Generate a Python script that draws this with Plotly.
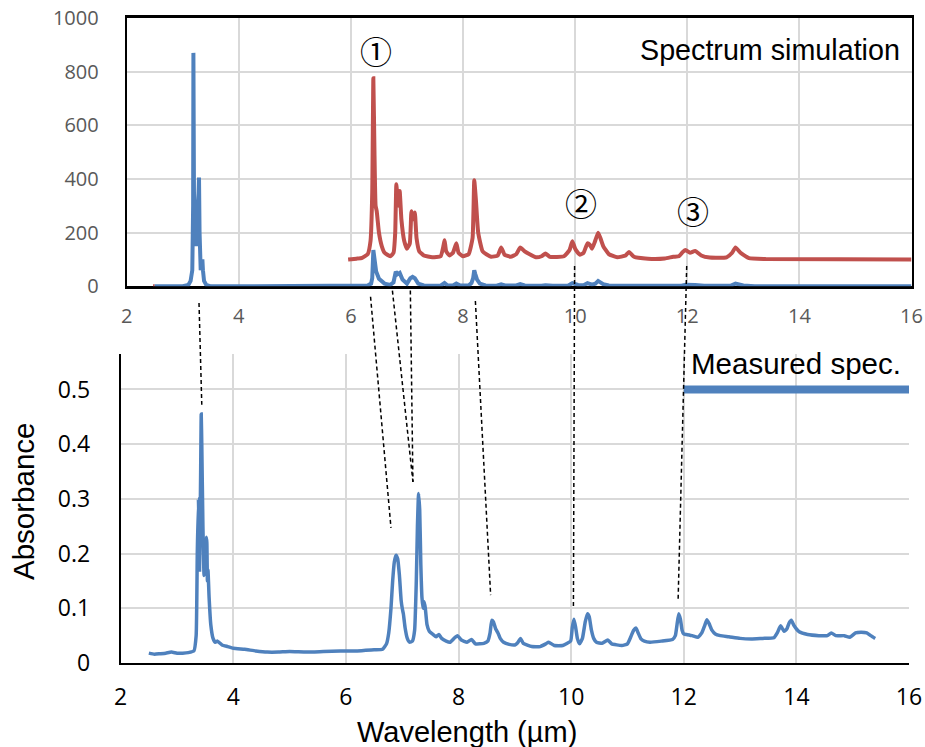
import plotly.graph_objects as go

# ---------------- data ----------------
# Top panel: simulated spectra (blue = base simulation, red = offset simulation)
sim_blue_x = [2.5, 3.0, 3.1, 3.14, 3.17, 3.185, 3.19, 3.2, 3.22, 3.24, 3.26, 3.28, 3.29, 3.3, 3.31,
              3.32, 3.34, 3.35, 3.36, 3.38, 3.42, 3.5, 4.0, 5.0, 6.0, 6.3, 6.36, 6.38, 6.4, 6.42, 6.45,
              6.5, 6.6, 6.7, 6.76, 6.8, 6.83, 6.87, 6.92, 7.0, 7.06, 7.1, 7.14, 7.2, 7.3, 7.6,
              7.67, 7.72, 7.82, 7.88, 7.95, 8.1, 8.15, 8.18, 8.2, 8.22, 8.25, 8.3, 8.4, 8.6, 8.68, 8.75,
              8.95, 9.02, 9.1, 9.4, 9.47, 9.6, 9.88, 9.95, 10.05, 10.15, 10.22, 10.3, 10.36,
              10.41, 10.5, 10.6, 10.9, 10.96, 11.1, 11.9, 11.97, 12.05, 12.14, 12.3, 12.78,
              12.86, 13.0, 13.2, 16.0]
sim_blue_y = [0, 0, 5, 20, 60, 300, 870, 350, 250, 150, 200, 330, 405, 200, 100,
              60, 80, 100, 60, 20, 5, 0, 0, 0, 0, 3, 10, 30, 135, 90, 55,
              28, 10, 5, 15, 55, 45, 50, 25, 10, 30, 35, 30, 10, 3, 2,
              12, 4, 3, 10, 3, 3, 12, 30, 60, 45, 25, 10, 3, 2, 7, 3,
              3, 8, 3, 2, 4, 2, 3, 12, 5, 4, 12, 6, 10,
              20, 8, 3, 2, 5, 2, 2, 6, 4, 5, 2, 3,
              10, 3, 0, 0]

sim_red_x = [2.47, 2.5, None,
             5.95, 6.1, 6.2, 6.3, 6.35, 6.38, 6.40, 6.42, 6.44, 6.46, 6.5, 6.55, 6.6, 6.7,
             6.76, 6.79, 6.81, 6.83, 6.85, 6.87, 6.9, 6.95, 7.0, 7.05, 7.08, 7.11, 7.14, 7.17,
             7.22, 7.3, 7.45, 7.6, 7.65, 7.67, 7.7, 7.76, 7.82, 7.88, 7.92, 8.0, 8.1, 8.17,
             8.2, 8.23, 8.27, 8.35, 8.5, 8.62, 8.68, 8.74, 8.85, 8.95, 9.02, 9.1, 9.18, 9.3,
             9.4, 9.47, 9.55, 9.8, 9.9, 9.95, 10.0, 10.08, 10.15, 10.22, 10.26, 10.3, 10.35,
             10.41, 10.45, 10.5, 10.6, 10.75, 10.9, 10.96, 11.05, 11.3, 11.6, 11.75, 11.85,
             11.92, 11.97, 12.05, 12.14, 12.25, 12.4, 12.7, 12.8, 12.86, 12.95, 13.1, 13.4, 16.0]
sim_red_y = [0, 0, None,
             100, 103, 106, 120, 170, 350, 775, 500, 300, 280, 200, 150, 125, 112,
             125, 200, 380, 330, 300, 355, 250, 170, 140, 160, 280, 250, 275, 180,
             130, 115, 108, 112, 150, 172, 130, 115, 125, 160, 125, 112, 120, 180,
             395, 320, 200, 130, 110, 115, 145, 118, 110, 120, 145, 130, 120, 108,
             112, 122, 110, 112, 135, 168, 140, 118, 125, 160, 155, 140, 165,
             200, 180, 150, 120, 108, 115, 128, 110, 103, 104, 110, 112,
             128, 135, 125, 132, 115, 107, 108, 125, 145, 125, 105, 102, 100]

# Bottom panel: measured absorbance spectrum
meas_x = [2.5, 2.6, 2.7, 2.8, 2.9, 3.0, 3.1, 3.2, 3.3, 3.34, 3.36, 3.38, 3.39, 3.40, 3.42,
          3.43, 3.44, 3.46, 3.47, 3.48, 3.50, 3.52, 3.53, 3.54, 3.55, 3.57, 3.6, 3.64, 3.68,
          3.72, 3.8, 3.9, 4.0, 4.2, 4.4, 4.6, 4.8, 5.0, 5.3, 5.6, 5.9, 6.2, 6.5, 6.65, 6.72,
          6.76, 6.80, 6.83, 6.86, 6.89, 6.92, 6.95, 6.98, 7.0, 7.02, 7.05, 7.09, 7.13, 7.18,
          7.22, 7.25, 7.27, 7.29, 7.31, 7.33, 7.35, 7.37, 7.39, 7.41, 7.44, 7.48,
          7.55, 7.6, 7.65, 7.7, 7.78, 7.85, 7.92,
          7.98, 8.05, 8.15, 8.23, 8.3, 8.45, 8.52, 8.56, 8.59, 8.62, 8.66, 8.7, 8.74, 8.8,
          8.9, 9.0, 9.05, 9.1, 9.15, 9.3, 9.45, 9.55, 9.6, 9.7, 9.85,
          9.99, 10.02, 10.05, 10.08, 10.11, 10.15, 10.2, 10.25, 10.29, 10.32, 10.36, 10.4, 10.45,
          10.55, 10.65, 10.72, 10.9, 11.0, 11.06, 11.11, 11.15, 11.19, 11.24, 11.3,
          11.4, 11.6, 11.8, 11.85, 11.88, 11.91, 11.94, 11.97, 12.0, 12.05, 12.15, 12.25,
          12.32, 12.37, 12.41, 12.45, 12.5, 12.56, 12.65, 12.8, 13.0, 13.2, 13.4, 13.6, 13.66, 13.72,
          13.78, 13.83, 13.87, 13.91, 13.96, 14.05, 14.2, 14.4, 14.55, 14.62, 14.7, 14.85, 14.95,
          15.05, 15.15, 15.25, 15.32, 15.4]
meas_y = [0.018, 0.016, 0.017, 0.018, 0.02, 0.018, 0.018, 0.019, 0.022, 0.05, 0.2, 0.30, 0.25, 0.17, 0.35,
          0.455, 0.40, 0.25, 0.2, 0.16, 0.21, 0.23, 0.22, 0.15, 0.17, 0.12, 0.07, 0.045, 0.038,
          0.04, 0.033, 0.03, 0.027, 0.025, 0.022, 0.02, 0.02, 0.021, 0.02, 0.021, 0.022, 0.022, 0.024, 0.025, 0.035,
          0.055, 0.1, 0.15, 0.185, 0.197, 0.19, 0.16, 0.115, 0.1, 0.09, 0.065, 0.045, 0.038, 0.04,
          0.06, 0.15, 0.25, 0.31, 0.28, 0.18, 0.12, 0.1, 0.112, 0.1, 0.07, 0.058,
          0.052, 0.048, 0.052, 0.045, 0.04, 0.038, 0.045,
          0.05, 0.042, 0.038, 0.043, 0.035, 0.036, 0.04, 0.055, 0.078, 0.075, 0.062, 0.055, 0.045, 0.038,
          0.034, 0.033, 0.037, 0.045, 0.036, 0.03, 0.03, 0.035, 0.038, 0.032, 0.032,
          0.04, 0.065, 0.08, 0.065, 0.045, 0.035, 0.045, 0.075, 0.09, 0.085, 0.06, 0.045, 0.038,
          0.036, 0.042, 0.035, 0.032, 0.035, 0.048, 0.06, 0.064, 0.055, 0.044, 0.04,
          0.038, 0.04, 0.043, 0.05, 0.07, 0.09, 0.08, 0.06, 0.053, 0.052, 0.05, 0.047,
          0.055, 0.068, 0.079, 0.072, 0.06, 0.053, 0.05, 0.048, 0.045, 0.044, 0.045, 0.046, 0.055, 0.068,
          0.058, 0.062, 0.073, 0.078, 0.068, 0.057, 0.052, 0.05, 0.05, 0.055, 0.05, 0.05, 0.047,
          0.055, 0.056, 0.055, 0.05, 0.045]

# Legend swatch for the measured spectrum
legend_line_x = [12, 16]
legend_line_y = 0.5

# Circled peak labels on the simulation panel (x in µm, y in sim units)
peak_labels = ["①", "②", "③"]
peak_label_x = [6.45, 10.1, 12.1]
peak_label_y = [880, 315, 285]

# Dashed connectors: (sim x, sim y start, measured x, measured y end)
conn_top_x = [3.29, 6.35, 6.74, 7.06, 8.22, 9.99, 11.99]
conn_top_y = [-62, -39, -16, -16, -55, 76, 76]
conn_bot_x = [3.44, 6.80, 7.19, 7.19, 8.57, 10.04, 11.90]
conn_bot_y = [0.472, 0.247, 0.331, 0.331, 0.124, 0.102, 0.117]

# ---------------- layout geometry ----------------
W, H = 925, 747
TOP_X_DOM = [126.7 / W, 911.5 / W]
TOP_Y_DOM = [1 - 286.3 / H, 1 - 18 / H]
BOT_X_DOM = [120.7 / W, 909 / W]
BOT_Y_DOM = [1 - 663 / H, 1 - 353.9 / H]
X_RANGE = [2, 16]
TOP_Y_RANGE = [0, 1000]
BOT_Y_RANGE = [0, 0.565]

BLUE = "#4F81BD"
RED = "#C0504D"
GRID = "#D9D9D9"


def to_paper(v, rng, dom):
    return dom[0] + (v - rng[0]) / (rng[1] - rng[0]) * (dom[1] - dom[0])


fig = go.Figure()

fig.add_trace(go.Scatter(x=sim_red_x, y=sim_red_y, mode="lines",
                         line=dict(color=RED, width=4, shape="spline", smoothing=0.4),
                         xaxis="x", yaxis="y", connectgaps=False, showlegend=False))
fig.add_trace(go.Scatter(x=sim_blue_x, y=sim_blue_y, mode="lines", line=dict(color=BLUE, width=4),
                         xaxis="x", yaxis="y", showlegend=False))
fig.add_trace(go.Scatter(x=meas_x, y=meas_y, mode="lines",
                         line=dict(color=BLUE, width=3.5, shape="spline", smoothing=0.4),
                         xaxis="x2", yaxis="y2", showlegend=False))

tick_font_top = dict(family="Open Sans", size=20, color="#595959")
tick_font_bot = dict(family="Open Sans", size=23, color="#000000")

fig.update_layout(
    template="none",
    width=W, height=H,
    margin=dict(l=0, r=0, t=0, b=0, pad=0, autoexpand=False),
    paper_bgcolor="white", plot_bgcolor="white",
    xaxis=dict(domain=TOP_X_DOM, range=X_RANGE, dtick=2, tick0=2, anchor="y", automargin=False,
               showgrid=True, gridcolor=GRID, gridwidth=2, zeroline=False,
               showline=True, linecolor="black", linewidth=2.5, mirror=True,
               ticks="", tickfont=tick_font_top, ticklabelstandoff=10, layer="below traces"),
    yaxis=dict(domain=TOP_Y_DOM, range=TOP_Y_RANGE, dtick=200, anchor="x", automargin=False,
               showgrid=True, gridcolor=GRID, gridwidth=2, zeroline=False,
               showline=True, linecolor="black", linewidth=2, mirror=True,
               ticks="", tickfont=tick_font_top, ticklabelstandoff=22, layer="below traces"),
    xaxis2=dict(domain=BOT_X_DOM, range=X_RANGE, dtick=2, tick0=2, anchor="y2", automargin=False,
                showgrid=True, gridcolor=GRID, gridwidth=1.5, zeroline=False,
                showline=True, linecolor="black", linewidth=2,
                ticks="", tickfont=tick_font_bot, ticklabelstandoff=12),
    yaxis2=dict(domain=BOT_Y_DOM, range=BOT_Y_RANGE, dtick=0.1, anchor="x2", automargin=False,
                showgrid=True, gridcolor=GRID, gridwidth=1.5, zeroline=False,
                showline=True, linecolor="black", linewidth=2,
                ticks="", tickfont=tick_font_bot, ticklabelstandoff=24),
)

shapes = []
# measured-spectrum legend swatch
shapes.append(dict(type="line", xref="x2", yref="y2",
                   x0=legend_line_x[0], x1=legend_line_x[1], y0=legend_line_y, y1=legend_line_y,
                   line=dict(color=BLUE, width=8)))
# dashed connectors between panels
for tx, ty, bx, by in zip(conn_top_x, conn_top_y, conn_bot_x, conn_bot_y):
    shapes.append(dict(type="line", xref="paper", yref="paper",
                       x0=to_paper(tx, X_RANGE, TOP_X_DOM), y0=to_paper(ty, TOP_Y_RANGE, TOP_Y_DOM),
                       x1=to_paper(bx, X_RANGE, BOT_X_DOM), y1=to_paper(by, BOT_Y_RANGE, BOT_Y_DOM),
                       line=dict(color="black", width=1.5, dash="4px,3px")))
fig.update_layout(shapes=shapes)

annotations = []
for lab, lx, ly in zip(peak_labels, peak_label_x, peak_label_y):
    annotations.append(dict(text=lab, x=lx, y=ly, xref="x", yref="y", showarrow=False,
                            xanchor="center", yanchor="middle",
                            font=dict(family="Noto Sans CJK JP", size=32, color="black")))
annotations.append(dict(text="Spectrum simulation", x=902 / W, y=1 - 50 / H, xref="paper", yref="paper",
                        showarrow=False, xanchor="right", yanchor="middle",
                        font=dict(family="Liberation Sans", size=28.7, color="black")))
annotations.append(dict(text="Measured spec.", x=689 / W, y=1 - 363 / H, xref="paper", yref="paper",
                        showarrow=False, xanchor="left", yanchor="middle",
                        font=dict(family="Liberation Sans", size=29.5, color="black")))
annotations.append(dict(text="Absorbance", x=23 / W, y=1 - 502 / H, xref="paper", yref="paper",
                        showarrow=False, textangle=-90, xanchor="center", yanchor="middle",
                        font=dict(family="Liberation Sans", size=29.5, color="black")))
annotations.append(dict(text="Wavelength (µm)", x=467 / W, y=1 - 732 / H, xref="paper", yref="paper",
                        showarrow=False, xanchor="center", yanchor="middle",
                        font=dict(family="Liberation Sans", size=29, color="black")))
fig.update_layout(annotations=annotations)

fig.write_html("out.html")
